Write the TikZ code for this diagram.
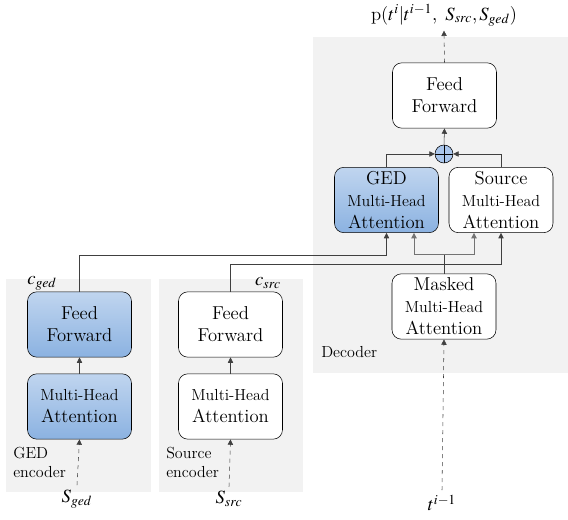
\documentclass[tikz,border=0pt]{standalone}
\usepackage{mathptmx}
\usepackage{tikz}
\usetikzlibrary{arrows.meta,calc}
\definecolor{bluetop}{RGB}{192,213,239}
\definecolor{bluebot}{RGB}{139,178,225}
\definecolor{plusblue}{RGB}{170,198,236}
\definecolor{panelgray}{RGB}{242,242,242}
\newcommand{\smallline}[1]{{\fontsize{12}{16.5}\selectfont #1}}
\tikzset{
>={Triangle[length=4pt,width=4pt]},
main block/.style={draw,rounded corners=7pt,fill=white,minimum width=78pt,minimum height=49pt,
  align=center,inner sep=1pt,font=\fontsize{14}{16.5}\selectfont},
blue block/.style={main block,top color=bluetop,bottom color=bluebot},
panel/.style={fill=panelgray},
panel label/.style={anchor=west,align=left,inner sep=0pt,font=\fontsize{12}{14}\selectfont},
freccia/.style={->,black!75,thin},
split line/.style={->,black!55,semithick},
input line/.style={->,dashed,black!75,thin}}

\begin{document}
\begin{tikzpicture}[x=0.75pt,y=0.75pt,font=\fontsize{14}{16}\selectfont]

\useasboundingbox (0,0) rectangle (568,520);
\fill[panel] (313,147) rectangle (568,483);
\fill[panel] (6,28) rectangle (151,241);
\fill[panel] (159,28) rectangle (303,241);

% decoder
\node[main block] (ffd) at (444.5,424.5) {Feed\\Forward};
\node[circle,draw,fill=plusblue,minimum size=13.5pt,inner sep=0pt,
  path picture={\draw (path picture bounding box.north) -- (path picture bounding box.south)
    (path picture bounding box.west) -- (path picture bounding box.east);}] (plus) at (444,366) {};
\node[blue block] (gedd) at (386.5,320) {GED\\\smallline{Multi-Head}\\Attention};
\node[main block] (srcd) at (501,320) {Source\\\smallline{Multi-Head}\\Attention};
\node[main block] (masked) at (444,213.5) {Masked\\\smallline{Multi-Head}\\Attention};
\node[panel label] (dec) at (321,168) {Decoder};
\node (out) at (444,505) {p($t^i|t^{i-1},\ S_{src},S_{ged}$)};
\node (tin) at (442,17) {$t^{i-1}$};

% GED encoder
\node[blue block] (ffg) at (79.5,195.5) {Feed\\Forward};
\node[blue block] (mhag) at (79.5,113.5) {\smallline{Multi-Head}\\Attention};
\node[panel label] (gedl) at (13,57.5) {GED\\encoder};
\node (cg) at (42,237) {$c_{ged}$};
\node (sg) at (77,21) {$S_{ged}$};

% Source encoder
\node[main block] (ffs) at (230.5,195.5) {Feed\\Forward};
\node[main block] (mhas) at (230.5,113.5) {\smallline{Multi-Head}\\Attention};
\node[panel label] (srcl) at (166,57.5) {Source\\encoder};
\node (cs) at (268,237) {$c_{src}$};
\node (ss) at (229,21) {$S_{src}$};

\coordinate (split) at (444,266);

\draw[input line] (ffd.north) -- (out.south);
\draw[freccia] (plus.north) -- (ffd.south);
\draw[freccia] (gedd.north) |- (plus.west);
\draw[freccia] (srcd.north) |- (plus.east);

\draw[black!75,thin] (masked.north) -- (split);
\draw[split line] (split) -| ($(gedd.south)+(27.5,0)$);
\draw[split line] (split) -| ($(srcd.south)+(-27,0)$);

\draw[freccia] (ffg.north) -- ++(0,36) -| (gedd.south);
\draw[freccia] (ffs.north) -- ++(0,27) -| (srcd.south);

\draw[freccia] (mhag.north) -- (ffg.south);
\draw[freccia] (mhas.north) -- (ffs.south);

\draw[input line] (sg.north) -- (mhag.south);
\draw[input line] (ss.north) -- (mhas.south);
\draw[input line] (tin.north) -- (masked.south);

\end{tikzpicture}
\end{document}
